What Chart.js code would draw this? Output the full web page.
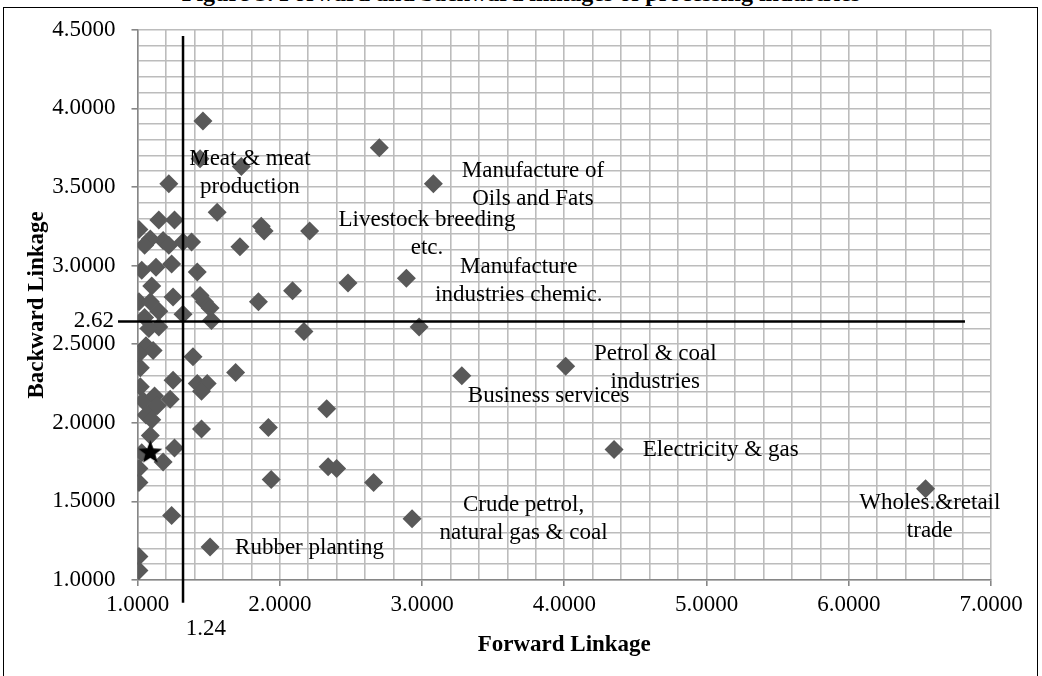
<!DOCTYPE html>
<html>
<head>
<meta charset="utf-8">
<script src="https://cdn.jsdelivr.net/npm/chart.js@4.4.1/dist/chart.umd.min.js"></script>
<style>
  html, body { margin: 0; padding: 0; background: #fff; overflow: hidden; }
  #wrap { position: relative; width: 1042px; height: 676px; overflow: hidden; }
  #frame { position: absolute; left: 3px; top: 7px; width: 1033px; height: 700px; border: 1px solid #000; }
  #title { position: absolute; left: 0; top: -19px; width: 1042px; text-align: center;
           font: bold 24px 'Liberation Serif', 'Times New Roman', serif; line-height: 24px; white-space: nowrap; }
  canvas { position: absolute; left: 0; top: 0; }
</style>
</head>
<body>
<div id="wrap">
  <div id="frame"></div>
  <div id="title">Figure 3. Forward and backward linkages of processing industries</div>
  <canvas id="chart" width="1042" height="676"></canvas>
</div>
<script>
// sectors: forward linkage (x) and backward linkage (y)
const FORWARD = [
  1.46, 1.44, 1.73, 1.22, 1.56, 1.87, 1.89, 2.21, 1.72, 2.70, 3.08, 2.48, 2.09, 1.85, 2.17, 2.89, 2.98, 4.01, 3.28, 4.35, 6.54, 2.93,
  1.01, 1.15, 1.26, 1.18, 1.09, 1.05, 1.22, 1.32, 1.38, 1.24, 1.03, 1.13, 1.42, 1.10, 1.25, 1.01, 1.09, 1.15, 1.05, 1.47, 1.51, 1.32, 1.15, 1.08, 1.52, 1.44,
  1.06, 1.11, 1.01, 1.02, 1.39, 1.25, 1.42, 1.49, 1.45, 1.02, 1.04, 1.12, 1.23, 1.10, 1.14, 1.06, 1.10, 1.69, 2.33, 1.45, 1.92, 1.09, 1.26, 1.18, 1.03, 1.01, 1.01, 2.34, 2.40, 1.94, 2.66, 1.24, 1.51, 1.01, 1.01
];
const BACKWARD = [
  3.92, 3.68, 3.63, 3.52, 3.34, 3.25, 3.22, 3.22, 3.12, 3.75, 3.52, 2.89, 2.84, 2.77, 2.58, 2.92, 2.61, 2.36, 2.30, 1.83, 1.58, 1.39,
  3.23, 3.29, 3.29, 3.16, 3.17, 3.13, 3.13, 3.15, 3.15, 3.01, 2.97, 2.99, 2.96, 2.87, 2.80, 2.77, 2.77, 2.71, 2.67, 2.77, 2.73, 2.69, 2.61, 2.60, 2.65, 2.81,
  2.49, 2.46, 2.44, 2.35, 2.42, 2.27, 2.25, 2.25, 2.20, 2.23, 2.14, 2.17, 2.15, 2.08, 2.11, 2.05, 2.02, 2.32, 2.09, 1.96, 1.97, 1.92, 1.84, 1.75, 1.81, 1.71, 1.62, 1.72, 1.71, 1.64, 1.62, 1.41, 1.21, 1.15, 1.06
];

// the starred sector
const STAR_X = [1.09];
const STAR_Y = [1.81];

// average lines (drawn where they sit in the picture)
const VLINE_X = [1.32, 1.32];
const VLINE_Y = [4.46, 0.855];
const HLINE_X = [0.863, 6.817];
const HLINE_Y = [2.645, 2.645];

// text labels, anchored in data units
const LABEL_TEXT = [
  ['Meat & meat', 'production'],
  ['Manufacture of', 'Oils and Fats'],
  ['Livestock breeding', 'etc.'],
  ['Manufacture', 'industries chemic.'],
  ['Petrol & coal', 'industries'],
  ['Business services'],
  ['Electricity & gas'],
  ['Wholes.&retail', 'trade'],
  ['Crude petrol,', 'natural gas & coal'],
  ['Rubber planting'],
  ['2.62'],
  ['1.24']
];
const LABEL_X = [1.79, 3.78, 3.035, 3.68, 4.64, 3.89, 5.10, 6.57, 3.714, 2.209, 0.835, 1.48];
const LABEL_Y = [3.677, 3.60, 3.29, 2.994, 2.437, 2.171, 1.829, 1.487, 1.475, 1.203, 2.65, 0.69];
const LABEL_ALIGN = ['center', 'center', 'center', 'center', 'center', 'center', 'center', 'center', 'center', 'center', 'right', 'center'];

const FONT = "'Liberation Serif', 'Times New Roman', serif";

const zip = (xs, ys) => xs.map((x, i) => ({x: x, y: ys[i]}));

function makeStar(r) {
  const c = document.createElement('canvas');
  c.width = c.height = Math.ceil(r * 2 + 2);
  const g = c.getContext('2d');
  const cx = c.width / 2, cy = c.height / 2;
  g.beginPath();
  for (let i = 0; i < 10; i++) {
    const rad = i % 2 ? r * 0.42 : r;
    const a = -Math.PI / 2 + i * Math.PI / 5;
    g.lineTo(cx + rad * Math.cos(a), cy + rad * Math.sin(a));
  }
  g.closePath();
  g.fillStyle = '#000';
  g.fill();
  return c;
}

const labelsPlugin = {
  id: 'labels',
  afterDatasetsDraw(chart) {
    const {ctx, scales: {x, y}} = chart;
    ctx.save();
    ctx.font = '23px ' + FONT;
    ctx.fillStyle = '#000';
    ctx.textBaseline = 'middle';
    LABEL_TEXT.forEach((lines, i) => {
      ctx.textAlign = LABEL_ALIGN[i];
      const px = x.getPixelForValue(LABEL_X[i]);
      const py = y.getPixelForValue(LABEL_Y[i]);
      lines.forEach((t, j) => ctx.fillText(t, px, py + j * 28));
    });
    ctx.restore();
  }
};

const near = (v, step) => Math.abs(v - Math.round(v / step) * step) < 1e-6;

Chart.defaults.font.family = FONT;
Chart.defaults.font.size = 23;
Chart.defaults.color = '#000';

new Chart(document.getElementById('chart'), {
  type: 'scatter',
  data: {
    datasets: [
      {
        data: zip(VLINE_X, VLINE_Y),
        showLine: true, clip: false,
        borderColor: '#000', borderWidth: 2.5, pointRadius: 0
      },
      {
        data: zip(HLINE_X, HLINE_Y),
        showLine: true, clip: false,
        borderColor: '#000', borderWidth: 2.5, pointRadius: 0
      },
      {
        data: zip(STAR_X, STAR_Y),
        pointStyle: makeStar(12.5),
        pointRadius: 12
      },
      {
        data: zip(FORWARD, BACKWARD),
        pointStyle: 'rectRot',
        pointRadius: 9.5,
        pointHoverRadius: 9.5,
        backgroundColor: '#595959',
        borderWidth: 0
      }
    ]
  },
  options: {
    responsive: false,
    animation: false,
    devicePixelRatio: 1,
    layout: { padding: { left: 23, top: 27, right: 51, bottom: 17 } },
    plugins: { legend: { display: false }, tooltip: { enabled: false } },
    scales: {
      x: {
        type: 'linear', min: 1, max: 7,
        afterFit: s => { s.height = 79; },
        border: { color: '#868686', width: 1.5 },
        grid: {
          color: '#bcbcbc', lineWidth: 1.6, tickLength: 6,
          tickColor: c => near(c.tick.value, 1) ? '#868686' : 'rgba(0,0,0,0)'
        },
        ticks: {
          stepSize: 0.2, autoSkip: false, maxRotation: 0, padding: 5,
          callback: v => near(v, 1) ? v.toFixed(4) : ''
        },
        title: { display: true, text: 'Forward Linkage', font: { weight: 'bold', size: 23 }, padding: 0 }
      },
      y: {
        type: 'linear', min: 1, max: 4.5,
        afterFit: s => { s.width = 114.5; },
        border: { color: '#868686', width: 1.5 },
        grid: {
          color: '#bcbcbc', lineWidth: 1.6, tickLength: 6,
          tickColor: c => near(c.tick.value, 0.5) ? '#868686' : 'rgba(0,0,0,0)'
        },
        ticks: {
          stepSize: 0.1, autoSkip: false, padding: 16,
          callback: v => near(v, 0.5) ? v.toFixed(4) : ''
        },
        title: { display: true, text: 'Backward Linkage', font: { weight: 'bold', size: 23 }, padding: 0 }
      }
    }
  },
  plugins: [labelsPlugin]
});
</script>
</body>
</html>
